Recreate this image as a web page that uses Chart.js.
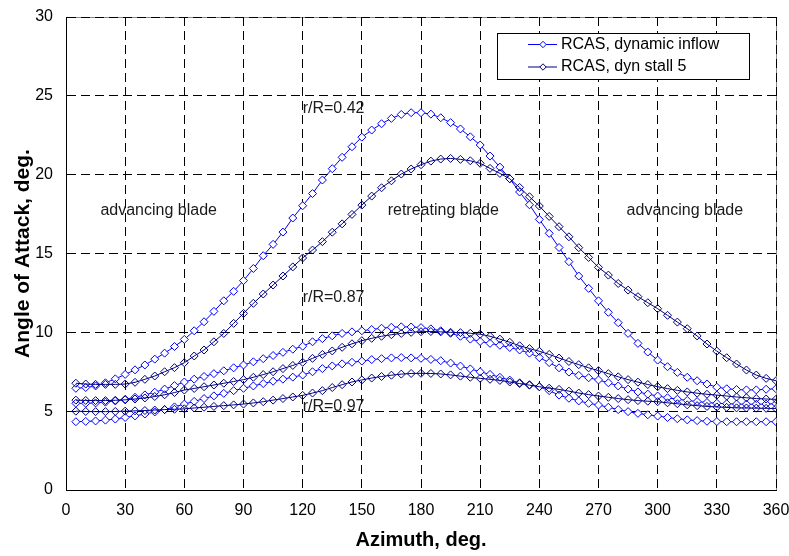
<!DOCTYPE html>
<html>
<head>
<meta charset="utf-8">
<script src="https://cdn.jsdelivr.net/npm/chart.js@4/dist/chart.umd.min.js"></script>
<style>
  html, body { margin: 0; padding: 0; background: #fff; }
  #wrap { width: 789px; height: 556px; position: relative; }
</style>
</head>
<body>
<div id="wrap"><canvas id="c" width="789" height="556"></canvas></div>
<script>
// ---- data ----
const azimuth = [5,10,15,20,25,30,35,40,45,50,55,60,65,70,75,80,85,90,95,100,105,110,115,120,
  125,130,135,140,145,150,155,160,165,170,175,180,185,190,195,200,205,210,215,220,225,230,235,240,
  245,250,255,260,265,270,275,280,285,290,295,300,305,310,315,320,325,330,335,340,345,350,355,360];

const dynInflow042 = [6.45,6.5,6.6,6.8,7.05,7.33,7.62,7.93,8.3,8.68,9.1,9.55,10.1,10.67,11.33,12.0,12.6,13.28,14.05,14.86,15.58,16.36,17.25,18.03,
  18.8,19.66,20.38,21.1,21.77,22.38,22.83,23.23,23.57,23.82,23.93,23.93,23.84,23.61,23.3,22.9,22.4,21.88,21.18,20.48,19.74,18.9,18.09,17.16,
  16.28,15.38,14.48,13.57,12.79,12.0,11.27,10.61,9.93,9.3,8.75,8.24,7.82,7.46,7.15,6.93,6.72,6.52,6.42,6.37,6.35,6.35,6.39,6.42];

const dynStall042 = [6.77,6.72,6.7,6.7,6.7,6.72,6.83,7.02,7.23,7.5,7.76,8.07,8.5,8.88,9.4,9.93,10.57,11.2,11.84,12.43,13.0,13.57,14.15,14.72,
  15.22,15.75,16.35,16.88,17.48,18.07,18.64,19.17,19.61,20.04,20.36,20.63,20.86,20.99,21.03,20.97,20.88,20.72,20.4,20.08,19.74,19.19,18.6,18.01,
  17.35,16.7,16.06,15.37,14.75,14.12,13.63,13.1,12.68,12.26,11.88,11.5,11.08,10.65,10.23,9.77,9.26,8.81,8.39,7.99,7.61,7.29,7.08,6.93];

const dynInflow087 = [5.5,5.5,5.52,5.57,5.65,5.75,5.88,6.03,6.2,6.4,6.62,6.85,7.03,7.2,7.38,7.56,7.75,7.93,8.13,8.33,8.53,8.73,8.93,9.12,
  9.4,9.6,9.78,9.93,10.03,10.1,10.18,10.26,10.32,10.35,10.34,10.3,10.22,10.1,9.94,9.75,9.57,9.42,9.3,9.18,9.04,8.88,8.68,8.4,
  8.08,7.75,7.48,7.27,7.12,6.98,6.8,6.6,6.4,6.22,6.08,5.96,5.85,5.76,5.68,5.61,5.55,5.5,5.47,5.45,5.44,5.44,5.45,5.47];

const dynStall087 = [5.7,5.68,5.67,5.67,5.69,5.72,5.77,5.84,5.93,6.04,6.18,6.34,6.44,6.55,6.66,6.77,6.88,7.0,7.15,7.32,7.5,7.7,7.9,8.1,
  8.35,8.6,8.82,9.05,9.27,9.47,9.62,9.75,9.85,9.93,10.0,10.04,10.05,10.03,10.0,9.98,9.94,9.88,9.75,9.57,9.37,9.15,8.97,8.8,
  8.6,8.37,8.15,7.95,7.75,7.57,7.38,7.18,7.0,6.84,6.69,6.55,6.43,6.32,6.22,6.14,6.07,6.02,5.96,5.9,5.85,5.8,5.77,5.75];

const dynInflow097 = [4.33,4.35,4.38,4.43,4.5,4.6,4.7,4.82,4.95,5.1,5.27,5.45,5.62,5.8,5.97,6.13,6.3,6.45,6.6,6.75,6.9,7.03,7.16,7.29,
  7.5,7.7,7.87,8.0,8.1,8.18,8.27,8.33,8.38,8.4,8.38,8.35,8.28,8.2,8.05,7.86,7.68,7.5,7.33,7.15,6.97,6.8,6.68,6.55,
  6.3,6.02,5.82,5.65,5.5,5.39,5.25,5.1,4.97,4.86,4.77,4.69,4.6,4.52,4.45,4.4,4.36,4.34,4.33,4.33,4.33,4.33,4.33,4.33];

const dynStall097 = [5.0,4.98,4.97,4.97,4.98,5.0,5.02,5.04,5.07,5.1,5.12,5.15,5.2,5.25,5.3,5.35,5.4,5.45,5.52,5.6,5.7,5.8,5.9,6.0,
  6.15,6.3,6.5,6.68,6.85,6.98,7.1,7.2,7.28,7.35,7.39,7.4,7.39,7.36,7.3,7.22,7.15,7.08,7.02,6.95,6.85,6.75,6.65,6.55,
  6.46,6.38,6.27,6.15,6.05,5.96,5.88,5.8,5.73,5.67,5.63,5.6,5.53,5.47,5.4,5.35,5.3,5.27,5.24,5.21,5.2,5.19,5.18,5.17];

const seriesNames = ['RCAS, dynamic inflow', 'RCAS, dyn stall 5'];
const xTicks = [0,30,60,90,120,150,180,210,240,270,300,330,360];
const yTicks = [0,5,10,15,20,25,30];
const xTitle = 'Azimuth, deg.';
const yTitle = 'Angle of Attack, deg.';
const noteTexts = ['r/R=0.42', 'r/R=0.87', 'r/R=0.97', 'advancing blade', 'retreating blade', 'advancing blade'];

// ---- styling / placement (not data) ----
const BLUE = '#0000ff';
const NAVY = '#000080';
const FONT = 'Arial, "Liberation Sans", sans-serif';
const notePlacement = [
  {x: 120, y: 24.2, align: 'left'},
  {x: 120, y: 12.2, align: 'left'},
  {x: 120, y: 5.3, align: 'left'},
  {x: 47, y: 17.75, align: 'center'},
  {x: 191.3, y: 17.75, align: 'center'},
  {x: 313.8, y: 17.75, align: 'center'}
];

function pts(vals) { return azimuth.map((a, i) => ({x: a, y: vals[i]})); }

function ds(label, vals, color, fill, legend) {
  return {
    label: label,
    data: pts(vals),
    borderColor: color,
    backgroundColor: fill,
    borderWidth: 1,
    pointStyle: 'rectRot',
    pointRadius: 4,
    pointBorderColor: color,
    pointBackgroundColor: fill,
    pointBorderWidth: 1,
    pointHoverRadius: 4,
    tension: 0,
    fill: false,
    showInLegend: legend
  };
}

const datasets = [
  ds(seriesNames[1], dynStall087, NAVY, 'rgba(255,255,255,0)', false),
  ds(seriesNames[1], dynStall097, NAVY, 'rgba(255,255,255,0)', false),
  ds(seriesNames[0], dynInflow087, BLUE, '#ffffff', false),
  ds(seriesNames[0], dynInflow097, BLUE, '#ffffff', false),
  ds(seriesNames[1], dynStall042, NAVY, 'rgba(255,255,255,0)', true),
  ds(seriesNames[0], dynInflow042, BLUE, '#ffffff', true)
];

const framePlugin = {
  id: 'frame',
  beforeDraw(chart) {
    const {ctx, chartArea: a} = chart;
    ctx.save();
    ctx.fillStyle = '#ffffff';
    ctx.fillRect(0, 0, chart.width, chart.height);
    ctx.strokeStyle = '#8c8c8c';
    ctx.lineWidth = 1;
    ctx.beginPath();
    ctx.moveTo(Math.round(a.left) + 0.5, Math.round(a.top) + 0.5);
    ctx.lineTo(Math.round(a.right) + 0.5, Math.round(a.top) + 0.5);
    ctx.lineTo(Math.round(a.right) + 0.5, Math.round(a.bottom) + 0.5);
    ctx.stroke();
    ctx.restore();
  }
};

const notesPlugin = {
  id: 'notes',
  afterDatasetsDraw(chart) {
    const {ctx, scales: {x, y}} = chart;
    ctx.save();
    ctx.font = '16px ' + FONT;
    ctx.fillStyle = '#1a1a1a';
    ctx.textBaseline = 'middle';
    noteTexts.forEach((t, i) => {
      const p = notePlacement[i];
      ctx.textAlign = p.align;
      ctx.fillText(t, x.getPixelForValue(p.x), y.getPixelForValue(p.y));
    });
    ctx.restore();
  }
};

const legendPlugin = {
  id: 'boxLegend',
  afterDraw(chart) {
    const {ctx} = chart;
    const items = chart.data.datasets.filter(d => d.showInLegend).reverse();
    const bx = 497.5, by = 33.5, bw = 252, bh = 46;
    ctx.save();
    ctx.fillStyle = '#ffffff';
    ctx.fillRect(bx, by, bw, bh);
    ctx.strokeStyle = '#000000';
    ctx.lineWidth = 1;
    ctx.strokeRect(bx, by, bw, bh);
    ctx.font = '16px ' + FONT;
    ctx.textBaseline = 'middle';
    ctx.textAlign = 'left';
    items.forEach((d, i) => {
      const yy = 44.5 + i * 22.5;
      ctx.strokeStyle = d.borderColor;
      ctx.lineWidth = 1;
      ctx.beginPath();
      ctx.moveTo(528, yy);
      ctx.lineTo(557, yy);
      ctx.stroke();
      const r = 3.2;
      ctx.beginPath();
      ctx.moveTo(543, yy - r);
      ctx.lineTo(543 + r, yy);
      ctx.lineTo(543, yy + r);
      ctx.lineTo(543 - r, yy);
      ctx.closePath();
      ctx.fillStyle = '#ffffff';
      ctx.fill();
      ctx.stroke();
      ctx.fillStyle = '#000000';
      ctx.fillText(d.label, 561, yy);
    });
    ctx.restore();
  }
};

new Chart(document.getElementById('c'), {
  type: 'line',
  data: { datasets: datasets },
  options: {
    responsive: false,
    animation: false,
    devicePixelRatio: 1,
    layout: { padding: { top: 17, right: 13, left: 0, bottom: 0 } },
    plugins: {
      legend: { display: false },
      tooltip: { enabled: false }
    },
    scales: {
      x: {
        type: 'linear',
        min: 0, max: 360,
        afterBuildTicks: s => { s.ticks = xTicks.map(v => ({value: v})); },
        afterFit: s => { s.height = 66; s.paddingLeft = 0; s.paddingRight = 0; },
        ticks: {
          color: '#000',
          font: { family: FONT, size: 16 },
          padding: 11,
          maxRotation: 0
        },
        grid: { color: '#000', lineWidth: 1, drawTicks: false },
        border: { display: true, color: '#000', width: 1, dash: [9, 5] },
        title: {
          display: true, text: xTitle, color: '#000',
          font: { family: FONT, size: 20, weight: 'bold' },
          padding: { top: 0, bottom: 4 }
        }
      },
      y: {
        type: 'linear',
        min: 0, max: 30,
        afterBuildTicks: s => { s.ticks = yTicks.map(v => ({value: v})); },
        afterFit: s => { s.width = 66; s.paddingTop = 0; s.paddingBottom = 0; },
        ticks: {
          color: '#000',
          font: { family: FONT, size: 16 },
          padding: 13
        },
        grid: { color: '#000', lineWidth: 1, drawTicks: false },
        border: { display: true, color: '#000', width: 1, dash: [9, 5] },
        title: {
          display: true, text: yTitle, color: '#000',
          font: { family: FONT, size: 21, weight: 'bold' },
          padding: { top: 11, bottom: 0 }
        }
      }
    }
  },
  plugins: [framePlugin, notesPlugin, legendPlugin]
});
</script>
</body>
</html>
